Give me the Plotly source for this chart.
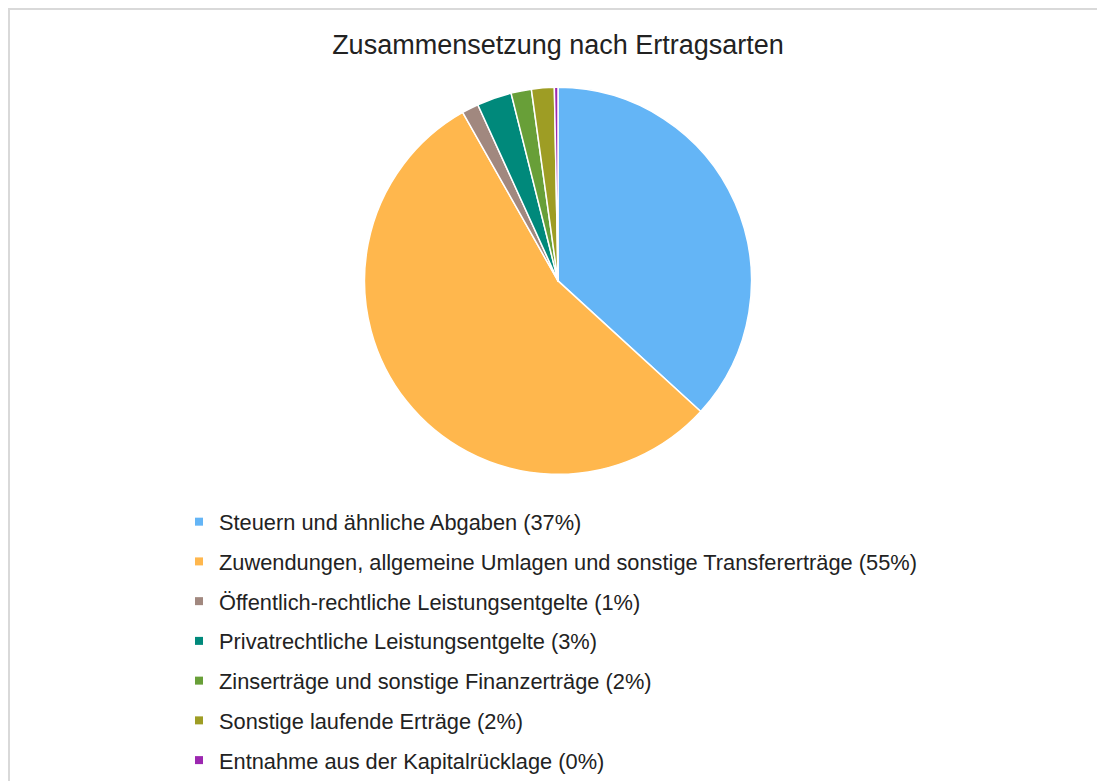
import plotly.graph_objects as go

categories = [
    "Steuern und ähnliche Abgaben",
    "Zuwendungen, allgemeine Umlagen und sonstige Transfererträge",
    "Öffentlich-rechtliche Leistungsentgelte",
    "Privatrechtliche Leistungsentgelte",
    "Zinserträge und sonstige Finanzerträge",
    "Sonstige laufende Erträge",
    "Entnahme aus der Kapitalrücklage",
]
shares = [36.8, 55.0, 1.4, 2.9, 1.7, 1.9, 0.3]
percent_labels = ["37%", "55%", "1%", "3%", "2%", "2%", "0%"]
colors = ["#64B5F6", "#FFB74D", "#A1887F", "#00897B", "#689F38", "#9E9D24", "#9C27B0"]

W, H = 1097, 781
FONT = "Liberation Sans, Arial, sans-serif"

fig = go.Figure()
fig.add_trace(go.Pie(
    labels=categories, values=shares, sort=False, direction="clockwise", rotation=0,
    marker=dict(colors=colors, line=dict(color="white", width=1.5)),
    textinfo="none", hoverinfo="label+percent", showlegend=False,
    domain=dict(x=[363 / W, 753 / W], y=[(H - 478) / H, (H - 88) / H]),
))

for i, (c, p, col) in enumerate(zip(categories, percent_labels, colors)):
    fig.add_trace(go.Scatter(
        x=[None], y=[None], mode="markers", name=f"{c} ({p})",
        legendgroup=f"g{i}",
        marker=dict(symbol="square", size=8, color=col),
    ))

fig.update_layout(
    width=W, height=H, margin=dict(l=0, r=0, t=0, b=0),
    paper_bgcolor="white", plot_bgcolor="white",
    font=dict(family=FONT, color="#222222"),
    title=dict(text="Zusammensetzung nach Ertragsarten", x=558 / W, xanchor="center",
               y=(H - 45) / H, yanchor="middle", font=dict(size=27, color="#222222")),
    xaxis=dict(visible=False), yaxis=dict(visible=False),
    legend=dict(x=179 / W, xanchor="left", y=(H - 505) / H, yanchor="top",
                font=dict(size=21.8, color="#222222"), traceorder="grouped",
                tracegroupgap=8.4, bgcolor="rgba(0,0,0,0)", itemclick=False),
    shapes=[dict(type="rect", xref="paper", yref="paper",
                 x0=9 / W, x1=1.2, y0=-0.1, y1=(H - 9) / H,
                 line=dict(color="#d9d9d9", width=2), fillcolor="rgba(0,0,0,0)")],
)

fig.write_html("out.html", config={"displayModeBar": False},
               post_script="document.body.style.margin='0';")
